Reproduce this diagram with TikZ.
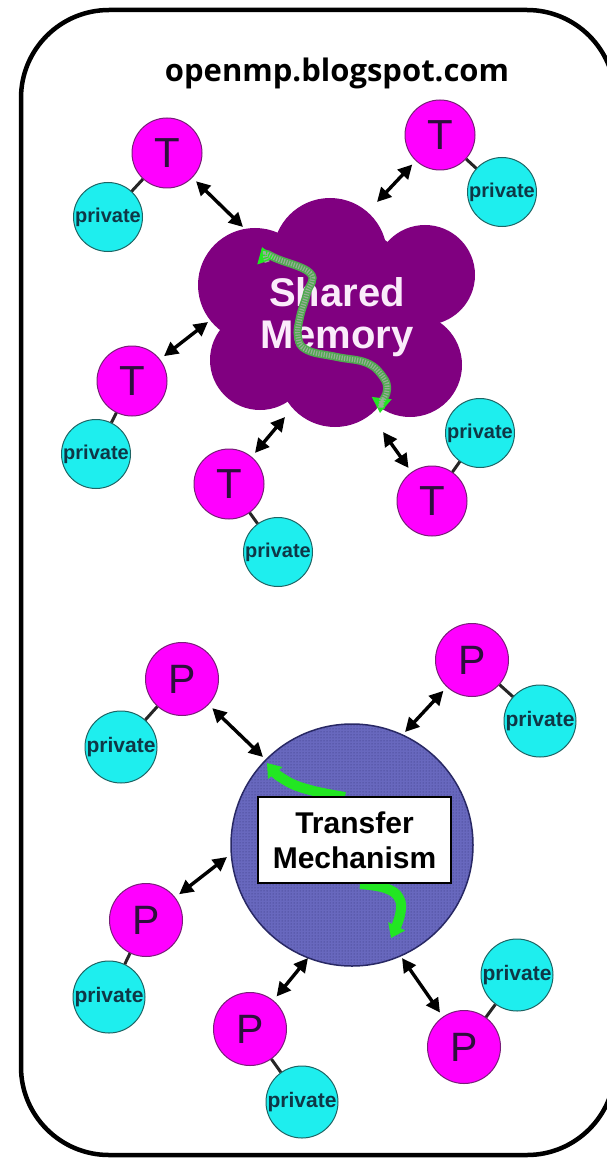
\documentclass[tikz,border=0pt]{standalone}
\usepackage{fontspec}
\setmainfont{Liberation Sans}
\newfontfamily\titlefont{Open Sans}
\usetikzlibrary{arrows.meta,calc,patterns}
\definecolor{mag}{RGB}{255,0,255}
\definecolor{magedge}{RGB}{120,30,120}
\definecolor{cyn}{RGB}{30,238,238}
\definecolor{cynedge}{RGB}{30,100,100}
\definecolor{cloudc}{RGB}{128,0,128}
\definecolor{cloudtext}{RGB}{250,235,250}
\definecolor{tmblue}{RGB}{104,104,190}
\definecolor{tmdots}{RGB}{50,50,120}
\definecolor{tmedge}{RGB}{40,40,100}
\definecolor{grn}{RGB}{34,230,34}
\definecolor{grnmix}{RGB}{80,170,80}
\definecolor{grnstip}{RGB}{150,175,150}
\definecolor{ttext}{RGB}{45,15,60}
\definecolor{ptext}{RGB}{15,55,70}
\tikzset{
  thread/.style={circle, fill=mag, draw=magedge, line width=1pt, minimum size=70pt, inner sep=0pt, text=ttext, font=\fontsize{42}{42}\selectfont},
  proc/.style={thread, minimum size=73pt, font=\fontsize{41}{41}\selectfont},
  priv/.style={circle, fill=cyn, draw=cynedge, line width=1pt, minimum size=69pt, inner sep=0pt, text=ptext, font=\bfseries\fontsize{20}{20}\selectfont},
  privb/.style={priv, minimum size=72pt, font=\bfseries\fontsize{21}{21}\selectfont},
  stick/.style={line width=3pt, draw=black!85},
  biarrow/.style={line width=3.4pt, {Triangle[length=14pt,width=14pt]}-{Triangle[length=14pt,width=14pt]}, shorten <=5pt},
  greenpath/.style={line width=10pt, grn},
}
\begin{document}
\begin{tikzpicture}[x=1pt,y=-1pt]
\useasboundingbox (0,0) rectangle (607,1158);
\fill[white] (0,0) rectangle (607,1158);
\draw[line width=4.5pt, rounded corners=88pt] (21,10) rectangle (615,1155);
\node[font=\titlefont\bfseries\fontsize{31}{31}\selectfont, anchor=base] (title) at (337,82) {openmp.blogspot.com};

% ---------- Shared memory cloud ----------
\fill[cloudc] (330,255) circle[radius=57pt];
\fill[cloudc] (425,275) circle[radius=50pt];
\fill[cloudc] (410,365) circle[radius=52pt];
\fill[cloudc] (335,370) circle[radius=57pt];
\fill[cloudc] (260,360) circle[radius=50pt];
\fill[cloudc] (255,285) circle[radius=57pt];
\fill[cloudc] (335,315) circle[radius=90pt];
\coordinate (cloud) at (335,315);
\node[font=\bfseries\fontsize{40}{42}\selectfont, text=cloudtext, align=center] (sm) at (337,317) {Shared\\Memory};
\draw[line width=8pt, grnmix, {Triangle[length=15pt,width=19pt,color=grn]}-{Triangle[length=15pt,width=19pt,color=grn]}]
  plot[smooth, tension=0.7] coordinates {(262,247) (273,257) (310,273) (307,293) (300,317) (298,337) (307,350) (337,357) (367,363) (383,377) (387,390) (382,403) (380,413)};
\draw[line width=5pt, grnstip, dash pattern=on 1.2pt off 1.4pt, shorten <=16pt, shorten >=16pt]
  plot[smooth, tension=0.7] coordinates {(262,247) (273,257) (310,273) (307,293) (300,317) (298,337) (307,350) (337,357) (367,363) (383,377) (387,390) (382,403) (380,413)};

% threads
\node[thread] (T1) at (167,153) {T};
\node[priv]   (pv1) at (108,217) {private};
\node[thread] (T2) at (440,135) {T};
\node[priv]   (pv2) at (502,192) {private};
\node[thread] (T3) at (132,381) {T};
\node[priv]   (pv3) at (96,454) {private};
\node[thread] (T4) at (229,484) {T};
\node[priv]   (pv4) at (278,552) {private};
\node[thread] (T5) at (432,501) {T};
\node[priv]   (pv5) at (480,433) {private};
\foreach \i in {1,...,5} {\draw[stick] (T\i) -- (pv\i);}

\coordinate (at1) at (243,227);
\coordinate (at2) at (377,202);
\coordinate (at3) at (208,322);
\coordinate (at4) at (285,417);
\coordinate (at5) at (383,432);
\foreach \i in {1,...,5} {\draw[biarrow] (T\i) -- (at\i);}

% ---------- Transfer mechanism ----------
\node[circle, minimum size=242pt, inner sep=0pt, fill=tmblue, draw=tmedge, line width=1.5pt] (tm) at (352,845) {};
\fill[pattern=dots, pattern color=tmdots] (tm.center) circle[radius=120pt];
\draw[greenpath, {Triangle[length=13pt,width=18pt]}-]
  plot[smooth, tension=0.7] coordinates {(267,763) (285,780) (310,790) (345,797)};
\draw[greenpath, -{Triangle[length=13pt,width=18pt]}]
  plot[smooth, tension=0.7] coordinates {(360,884) (385,888) (399,898) (400,915) (391,938)};
\node[draw=black, fill=white, line width=1.2pt, minimum width=193pt, minimum height=86pt, inner sep=0pt,
      font=\bfseries\fontsize{30}{35}\selectfont, align=center] (box) at (354.5,840) {Transfer\\Mechanism};

\node[proc] (P1) at (182,679) {P};
\node[privb] (q1) at (121,747) {private};
\node[proc] (P2) at (472,660) {P};
\node[privb] (q2) at (540,721) {private};
\node[proc] (P3) at (146,920) {P};
\node[privb] (q3) at (109,997) {private};
\node[proc] (P4) at (250,1029) {P};
\node[privb] (q4) at (302,1102) {private};
\node[proc] (P5) at (464,1047) {P};
\node[privb] (q5) at (517,975) {private};
\foreach \i in {1,...,5} {\draw[stick] (P\i) -- (q\i);}

\coordinate (ap1) at (263,757);
\coordinate (ap2) at (405,732);
\coordinate (ap3) at (227,857);
\coordinate (ap4) at (308,958);
\coordinate (ap5) at (402,958);
\foreach \i in {1,...,5} {\draw[biarrow] (P\i) -- (ap\i);}
\end{tikzpicture}
\end{document}
